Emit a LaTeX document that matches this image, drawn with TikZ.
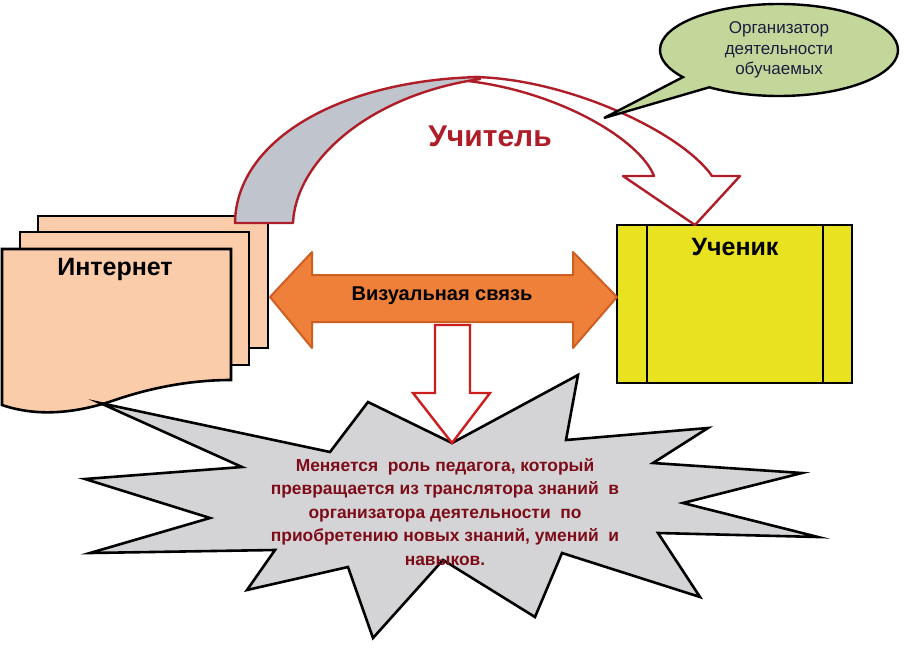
\documentclass[tikz,border=0pt]{standalone}
\usepackage{fontspec}
\setmainfont{Liberation Sans}
\usetikzlibrary{shapes.callouts}
\definecolor{peach}{RGB}{251,204,170}
\definecolor{archred}{RGB}{175,30,40}
\definecolor{archgray}{RGB}{192,197,205}
\definecolor{orangefill}{RGB}{238,128,58}
\definecolor{orangeedge}{RGB}{205,95,35}
\definecolor{yellowbox}{RGB}{232,226,32}
\definecolor{bubblegreen}{RGB}{196,215,155}
\definecolor{stargray}{RGB}{212,212,214}
\definecolor{starred}{RGB}{125,12,25}
\definecolor{arrowred}{RGB}{205,30,30}
\definecolor{bubbletext}{RGB}{28,28,62}
\tikzset{
  sheet/.style={draw=black, line width=2.6pt, fill=peach},
  archline/.style={draw=archred, line width=2.4pt, line join=round},
  bigtext/.style={font=\bfseries\fontsize{25}{30}\selectfont, inner sep=0pt},
}
\begin{document}
\begin{tikzpicture}[x=1pt,y=-1pt]
\useasboundingbox (0,0) rectangle (905,664);
\fill[white] (0,0) rectangle (905,664);
% document stack
\path[sheet] (38,216) rectangle (268,348);
\path[sheet] (20,232) rectangle (249,365);
\path[sheet] (2,249) -- (231,249) -- (231,380)
  .. controls (190,380) and (150,388) .. (115,400)
  .. controls (80,412) and (40,418) .. (2,405) -- cycle;
\node[bigtext] (internet) at (115,269) {Интернет};
% learner box
\path[draw=black, line width=2.6pt, fill=yellowbox] (617,225) rectangle (852,383);
\draw[line width=2.6pt] (647,225) -- (647,383);
\draw[line width=2.6pt] (823,225) -- (823,383);
\node[bigtext] (pupil) at (735,247) {Ученик};
% curved arrow (teacher)
\path[archline, fill=white]
  (468,77) .. controls (560,76) and (680,130) .. (712,176)
  -- (740,176) -- (695,225) -- (623,176) -- (654,176)
  .. controls (640,140) and (560,92) .. (468,81)
  -- cycle;
\path[archline, fill=archgray]
  (235,223) .. controls (236,140) and (340,80) .. (480,77)
  -- (480,79) .. controls (370,95) and (296,160) .. (293,223)
  -- cycle;
\node[font=\bfseries\fontsize{30}{36}\selectfont, text=archred, inner sep=0pt] (teacher) at (490,136) {Учитель};
% orange double arrow
\path[draw=orangeedge, line width=2pt, fill=orangefill, line join=round]
  (270,297) -- (312,252) -- (312,275) -- (573,275) -- (573,252) -- (617,297)
  -- (573,348) -- (573,322) -- (312,322) -- (312,348) -- cycle;
\node[font=\bfseries\fontsize{20}{24}\selectfont, inner sep=0pt] (visual) at (442,296) {Визуальная связь};
% star
\path[draw=black, line width=2.6pt, fill=stargray, line join=miter]
  (100,403) -- (330,452) -- (368,402) -- (452,443) -- (578,375) -- (566,440)
  -- (708,428) -- (653,463) -- (802,473) -- (683,503) -- (818,537) -- (658,533)
  -- (700,597) -- (562,553) -- (535,617) -- (443,560) -- (373,638) -- (348,567)
  -- (247,590) -- (275,550) -- (90,553) -- (210,518) -- (85,479) -- (242,467) -- cycle;
\node[font=\bfseries\fontsize{17.4}{23.5}\selectfont, text=starred, align=center, inner sep=0pt] (change) at (445,512)
  {Меняется \ роль педагога, который\\превращается из транслятора знаний \ в\\организатора деятельности \ по\\приобретению новых знаний, умений \ и\\навыков.};
% red down arrow
\path[draw=arrowred, line width=2.4pt, fill=white, line join=miter]
  (435,325) -- (470,325) -- (470,393) -- (490,393) -- (452,443) -- (413,393) -- (435,393) -- cycle;
% callout
\node[ellipse callout, draw=black, line width=2.4pt, fill=bubblegreen,
  minimum width=238pt, minimum height=92pt, inner sep=0pt,
  callout absolute pointer={(604,118)}, callout pointer arc=18,
  align=center, text=bubbletext, font=\fontsize{17}{20.5}\selectfont] (org) at (779,50)
  {Организатор\\деятельности\\обучаемых};
\end{tikzpicture}
\end{document}
